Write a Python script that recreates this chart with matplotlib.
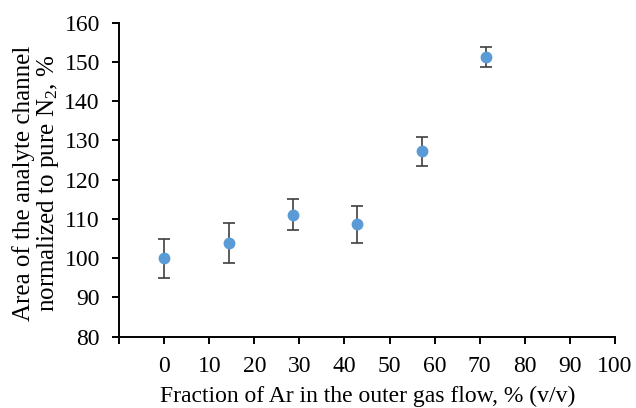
import matplotlib
matplotlib.use("Agg")
import matplotlib.pyplot as plt

x_vals = [0, 14.29, 28.57, 42.86, 57.14, 71.43]
y_vals = [100.0, 103.9, 111.1, 108.6, 127.2, 151.2]
y_err = [4.95, 5.0, 4.0, 4.6, 3.8, 2.5]
x_ticks = [-10, 0, 10, 20, 30, 40, 50, 60, 70, 80, 90, 100]
x_ticklabels = ["", "0", "10", "20", "30", "40", "50", "60", "70", "80", "90", "100"]
y_ticks = [80, 90, 100, 110, 120, 130, 140, 150, 160]

plt.rcParams['font.family'] = ['Liberation Serif', 'DejaVu Serif']
plt.rcParams['mathtext.fontset'] = 'custom'
plt.rcParams['mathtext.rm'] = 'Liberation Serif'
plt.rcParams['mathtext.it'] = 'Liberation Serif:italic'

W, H = 636, 408
fig = plt.figure(figsize=(W/100, H/100), dpi=100)
ax = fig.add_axes([119.3/W, 1-336.7/H, (614.7-119.3)/W, (336.7-22.7)/H])

ax.errorbar(x_vals, y_vals, yerr=y_err, fmt='o', color='#5B9BD5', ms=7.5,
            ecolor='#404040', elinewidth=1.2, capsize=4, capthick=1.2, zorder=3)

ax.set_xlim(-10, 100)
ax.set_ylim(80, 160)
ax.set_xticks(x_ticks)
ax.set_xticklabels(x_ticklabels)
ax.set_yticks(y_ticks)
for s in ['top', 'right']:
    ax.spines[s].set_visible(False)
for s in ['left', 'bottom']:
    ax.spines[s].set_linewidth(1.4)
    ax.spines[s].set_color('black')
ax.tick_params(axis='both', direction='out', length=5, width=1.4, labelsize=17, colors='black')
ax.tick_params(axis='x', pad=9)
ax.tick_params(axis='y', pad=9)

fig.text(367.5/W, 1-402/H, "Fraction of Ar in the outer gas flow, % (v/v)", fontsize=17,
         ha='center', va='baseline')
fig.text(37/W, 1-183/H, "Area of the analyte channel\nnormalized to pure N$_2$, %", fontsize=18,
         ha='center', va='center', rotation=90, linespacing=1.0, multialignment='center')

fig.savefig("out.png", dpi=100)
